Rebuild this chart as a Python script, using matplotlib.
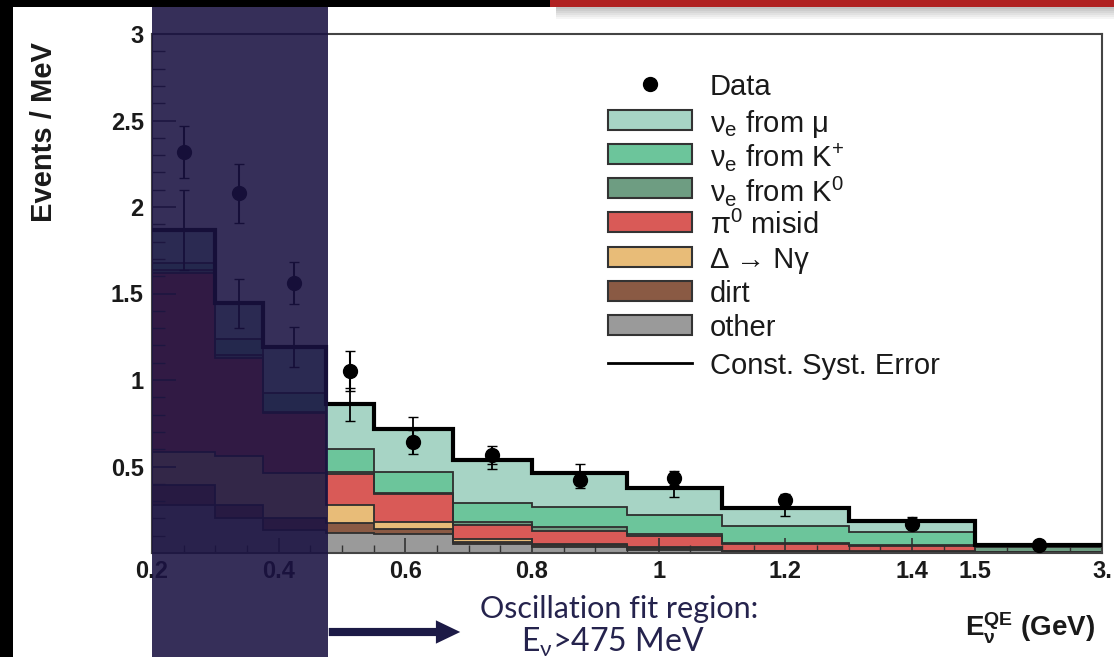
import numpy as np
import matplotlib
matplotlib.use('Agg')
import matplotlib.pyplot as plt
from matplotlib.patches import Rectangle
from matplotlib.lines import Line2D

plt.rcParams['font.family'] = ['Liberation Sans', 'DejaVu Sans']
plt.rcParams['mathtext.fontset'] = 'custom'
plt.rcParams['mathtext.rm'] = 'Liberation Sans'
plt.rcParams['mathtext.it'] = 'Liberation Sans:italic'
plt.rcParams['mathtext.bf'] = 'Liberation Sans:bold'
plt.rcParams['mathtext.default'] = 'regular'

# bin edges (GeV) and per-component contributions (Events / MeV)
edges = [0.2, 0.3, 0.375, 0.475, 0.55, 0.675, 0.8, 0.95, 1.1, 1.3, 1.5, 3.0]
other = [0.277, 0.205, 0.133, 0.116, 0.110, 0.050, 0.035, 0.020, 0.005, 0.004, 0.002]
dirt = [0.116, 0.075, 0.067, 0.058, 0.028, 0.015, 0.010, 0.010, 0.005, 0.003, 0.001]
delta_ngamma = [0.192, 0.280, 0.264, 0.101, 0.043, 0.015, 0.007, 0.006, 0.002, 0.002, 0.001]
pi0_misid = [1.035, 0.570, 0.346, 0.182, 0.159, 0.082, 0.078, 0.064, 0.038, 0.031, 0.004]
nue_k0 = [0.016, 0.015, 0.007, 0.011, 0.007, 0.018, 0.018, 0.010, 0.008, 0.006, 0.027]
nue_kplus = [0.042, 0.090, 0.110, 0.135, 0.123, 0.111, 0.120, 0.110, 0.098, 0.077, 0.005]
nue_mu = [0.189, 0.208, 0.265, 0.257, 0.245, 0.247, 0.194, 0.154, 0.102, 0.064, 0.006]
mc_err = [0.23, 0.14, 0.115, 0.095, 0.07, 0.05, 0.055, 0.05, 0.045, 0.02, 0.005]

data = [2.32, 2.08, 1.56, 1.054, 0.643, 0.566, 0.422, 0.432, 0.306, 0.170, 0.046]
data_err = [0.15, 0.17, 0.12, 0.115, 0.07, 0.05, 0.045, 0.04, 0.035, 0.025, 0.008]

components = [other, dirt, delta_ngamma, pi0_misid, nue_k0, nue_kplus, nue_mu]
colors = ['#9a9a9a', '#8a5a44', '#e8bc78', '#d95a57', '#6e9d82', '#6cc59b', '#a7d4c5']
labels = ['other', 'dirt', 'Δ → Nγ', r'$\pi^{0}$ misid',
          r'$\nu_{e}$ from K$^{0}$', r'$\nu_{e}$ from K$^{+}$', r'$\nu_{e}$ from $\mu$']


def fwd(x):
    x = np.asarray(x, dtype=float)
    return np.where(x <= 1.5, x, 1.5 + (x - 1.5) * (0.2 / 1.5))


def inv(y):
    y = np.asarray(y, dtype=float)
    return np.where(y <= 1.5, y, 1.5 + (y - 1.5) * 7.5)


W, H = 1114, 657
fig = plt.figure(figsize=(W / 100, H / 100), dpi=100)
ax = fig.add_axes([152 / W, 104 / H, 950 / W, 519 / H])
ax.set_xscale('function', functions=(fwd, inv))

edges = np.array(edges)
centers = inv((fwd(edges[:-1]) + fwd(edges[1:])) / 2)

cum = np.cumsum(np.array(components), axis=0)
base = np.zeros(len(edges) - 1)
for top, col in zip(cum, colors):
    ax.stairs(top, edges, baseline=base, fill=True, color=col, zorder=1)
    ax.stairs(top, edges, baseline=None, color='#2e2e2e', lw=1.3, zorder=2)
    base = top
total = cum[-1]
ax.stairs(total, edges, baseline=None, color='black', lw=3, zorder=3)

ax.errorbar(centers, total, yerr=mc_err, fmt='none', ecolor='black',
            elinewidth=1.3, capsize=3.5, zorder=4)
ax.errorbar(centers, data, yerr=data_err, fmt='o', color='black', ms=10,
            elinewidth=1.5, capsize=3.5, zorder=5)

ax.set_xlim(0.2, 3.0)
ax.set_ylim(0, 3)
xt = [0.2, 0.4, 0.6, 0.8, 1.0, 1.2, 1.4, 1.5, 3.0]
ax.set_xticks(xt)
ax.set_xticklabels(['0.2', '0.4', '0.6', '0.8', '1', '1.2', '1.4', '1.5', '3.'])
ax.set_xticks(list(np.arange(0.25, 1.5, 0.05)) + [1.875, 2.25, 2.625], minor=True)
ax.set_yticks([0.5, 1, 1.5, 2, 2.5, 3])
ax.set_yticklabels(['0.5', '1', '1.5', '2', '2.5', '3'])
ax.set_yticks(np.arange(0.1, 3.0, 0.1), minor=True)
ax.tick_params(axis='both', which='both', direction='in', colors='#333333',
               labelcolor='#1a1a1a', labelsize=17)
ax.tick_params(axis='y', which='major', length=17, width=1.2, pad=6)
ax.tick_params(axis='y', which='minor', length=9, width=1.0)
ax.tick_params(axis='x', which='major', length=11, width=1.2, pad=5)
ax.tick_params(axis='x', which='minor', length=6, width=1.0)
for lab in ax.get_xticklabels() + ax.get_yticklabels():
    lab.set_fontweight('bold')
for sp in ax.spines.values():
    sp.set_color('#444444')
    sp.set_linewidth(1.5)


def px(x, y):
    return x / W, 1 - y / H


# legend, laid out by hand so the rows are evenly spaced
rows = [84, 120, 154, 188, 222, 257, 291, 325, 363]
leg_labels = ['Data'] + labels[::-1] + ['Const. Syst. Error']
for i, (ry, lab) in enumerate(zip(rows, leg_labels)):
    if i == 0:
        fig.add_artist(Line2D([px(650, ry)[0]], [px(650, ry)[1]], marker='o', ms=10,
                              color='black', transform=fig.transFigure))
    elif i == len(rows) - 1:
        fig.add_artist(Line2D([608 / W, 692 / W], [px(0, ry)[1]] * 2, lw=2,
                              color='black', transform=fig.transFigure))
    else:
        fig.add_artist(Rectangle(px(608, ry + 10), 84 / W, 20 / H,
                                 transform=fig.transFigure,
                                 facecolor=colors[::-1][i - 1],
                                 edgecolor='#333333', lw=1.5))
    fig.text(710 / W, px(0, ry)[1], lab, ha='left', va='center_baseline',
             fontsize=21, color='#1a1a1a')

fig.text(44 / W, 1 - 132 / H, 'Events / MeV', rotation=90, ha='center',
         va='center', fontsize=21, fontweight='bold', color='#1a1a1a')
fig.text(1030 / W, 1 - 628 / H, r'E$_{\nu}^{QE}$ (GeV)', ha='center',
         va='center', fontsize=20, fontweight='bold', color='#1a1a1a')

# slide decorations: fit-region shading, arrow and caption
fig.add_artist(Rectangle((152 / W, 0), 176 / W, 650 / H, transform=fig.transFigure,
                         color='#1a1242', alpha=0.88, lw=0, zorder=10))
fig.add_artist(Rectangle((0, 0), 13 / W, 1, transform=fig.transFigure,
                         color='black', lw=0, zorder=20))
fig.add_artist(Rectangle((0, 650 / H), 550 / W, 7 / H, transform=fig.transFigure,
                         color='black', lw=0, zorder=20))
fig.add_artist(Rectangle((550 / W, 650 / H), 564 / W, 7 / H, transform=fig.transFigure,
                         color='#b02222', lw=0, zorder=20))
for i in range(6):
    fig.add_artist(Rectangle((556 / W, (648 - 2 * i) / H), 558 / W, 2 / H,
                             transform=fig.transFigure, color='#555555',
                             alpha=0.35 * (1 - i / 6), lw=0, zorder=19))

ax.annotate('', xy=(463, 25), xytext=(326, 25), xycoords='figure pixels',
            textcoords='figure pixels',
            arrowprops=dict(arrowstyle='simple,head_length=1.25,head_width=1.2,tail_width=0.42',
                            mutation_scale=14, color='#1c1a46', lw=0))
fig.text(619 / W, 1 - 609 / H, 'Oscillation fit region:', ha='center', va='center',
         fontsize=22, family='Lato', color='#25234d')
fig.text(613 / W, 1 - 642 / H, r'E$_{\nu}$>475 MeV', ha='center', va='center',
         fontsize=23, family='Lato', color='#25234d')

fig.savefig('out.png', dpi=100)
